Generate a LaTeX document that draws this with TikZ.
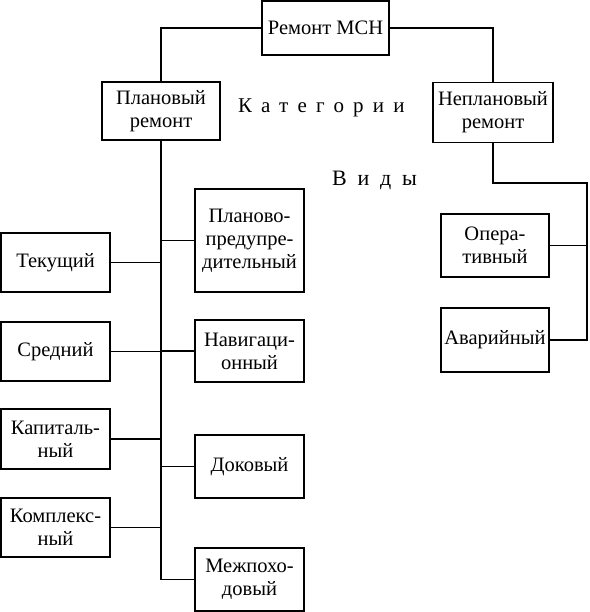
\documentclass[tikz,border=0pt]{standalone}
\usepackage{fontspec}
\setmainfont{Liberation Serif}
\begin{document}
\begin{tikzpicture}[x=1pt,y=-1pt,
  box/.style={draw,line width=1.3pt,inner sep=0pt,align=center,font=\fontsize{20.5}{23}\selectfont},
  ln/.style={line width=1.3pt}]
\useasboundingbox (0,0) rectangle (589,612);
\node[box,minimum width=127,minimum height=54] (msn) at (325.5,28) {Ремонт МСН};
\node[box,minimum width=118,minimum height=58] (plan) at (161,111) {Плановый\\ремонт};
\node[box,minimum width=120,minimum height=60] (neplan) at (493,112.5) {Неплановый\\ремонт};
\node[box,minimum width=108,minimum height=63] (oper) at (495,245.5) {Опера-\\тивный};
\node[box,minimum width=108,minimum height=64] (avar) at (495,340) {Аварийный};
\node[box,minimum width=109,minimum height=103] (ppr) at (249.5,240.5) {Планово-\\предупре-\\дительный};
\node[box,minimum width=109,minimum height=59] (tek) at (55.5,262.5) {Текущий};
\node[box,minimum width=109,minimum height=59] (sred) at (55.5,351.5) {Средний};
\node[box,minimum width=109,minimum height=62] (nav) at (249.5,351) {Навигаци-\\онный};
\node[box,minimum width=109,minimum height=60] (kap) at (55.5,439) {Капиталь-\\ный};
\node[box,minimum width=109,minimum height=63] (dok) at (249.5,466.5) {Доковый};
\node[box,minimum width=109,minimum height=59] (kompl) at (55.5,527.5) {Комплекс-\\ный};
\node[box,minimum width=109,minimum height=63] (mezh) at (249.5,579.5) {Межпохо-\\довый};
\node[anchor=base west,inner sep=0pt,font=\fontsize{21}{24}\selectfont\addfontfeature{LetterSpace=44}] (kat) at (238,113) {Категории};
\node[anchor=base west,inner sep=0pt,font=\fontsize{22}{25}\selectfont\addfontfeature{LetterSpace=49}] (vid) at (332,186) {Виды};
\coordinate (rt) at (587,183);
\draw[ln] (msn.west) -| (plan.north);
\draw[ln] (msn.east) -| (neplan.north);
\draw[ln] (neplan.south) |- (rt) -- (rt |- avar.east) -- (avar.east);
\draw[ln] (oper.east) -- (oper.east -| rt);
\draw[ln] (plan.south) -- (plan.south |- mezh.west);
\foreach \n in {tek,sred,kap,kompl}{\draw[ln] (\n.east) -- (\n.east -| plan.south);}
\foreach \n in {ppr,nav,dok,mezh}{\draw[ln] (\n.west) -- (\n.west -| plan.south);}
\end{tikzpicture}
\end{document}
